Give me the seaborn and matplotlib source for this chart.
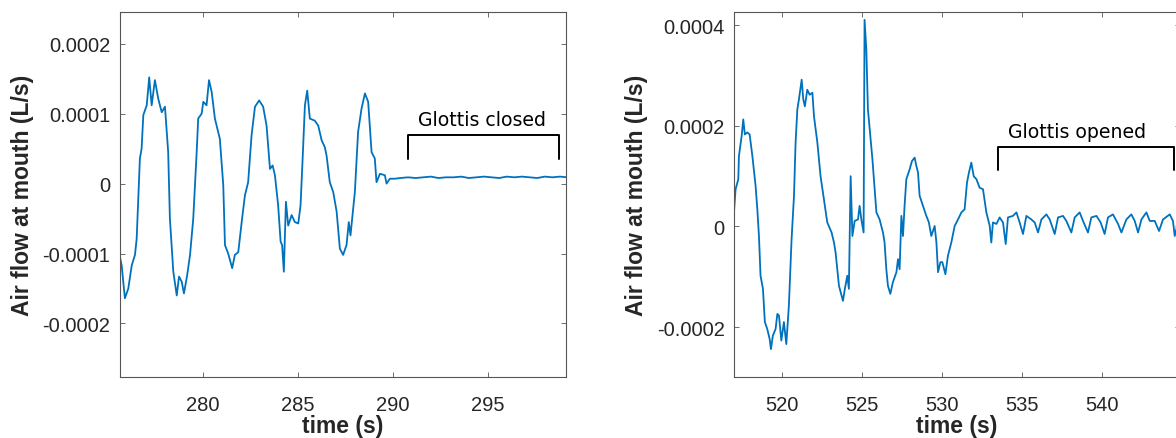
import numpy as np
import pandas as pd
import matplotlib
matplotlib.use("Agg")
import matplotlib.pyplot as plt
import seaborn as sns

# air flow, in units of 1e-4 L/s
t_closed = [275.63, 275.72, 275.89, 276.07, 276.25, 276.42, 276.51, 276.68, 276.77, 276.86,
            277.04, 277.17, 277.30, 277.47, 277.65, 277.83, 278.00, 278.17, 278.26, 278.44,
            278.62, 278.74, 278.88, 279.00, 279.17, 279.32, 279.49, 279.67, 279.75, 279.93,
            280.02, 280.19, 280.32, 280.46, 280.63, 280.89, 281.07, 281.16, 281.33, 281.54,
            281.68, 281.86, 282.04, 282.21, 282.38, 282.56, 282.74, 282.96, 283.17, 283.35,
            283.53, 283.67, 283.79, 283.96, 284.09, 284.17, 284.26, 284.37, 284.49, 284.67,
            284.84, 285.02, 285.14, 285.25, 285.37, 285.49, 285.63, 285.89, 286.07, 286.25,
            286.42, 286.51, 286.68, 286.86, 287.04, 287.21, 287.38, 287.56, 287.68, 287.77,
            288.00, 288.17, 288.35, 288.53, 288.70, 288.88, 289.05, 289.14, 289.32, 289.58,
            289.67, 289.84,
            290.10, 290.40, 290.80, 291.20, 291.60, 292.00, 292.40, 292.80, 293.20, 293.60,
            294.00, 294.40, 294.80, 295.20, 295.60, 296.00, 296.40, 296.80, 297.20, 297.60,
            298.00, 298.40, 298.80, 299.20]
flow_closed = [-1.05, -1.17, -1.64, -1.50, -1.17, -1.02, -0.79, 0.36, 0.50, 0.98,
               1.12, 1.52, 1.12, 1.48, 1.21, 1.02, 1.10, 0.45, -0.50, -1.26,
               -1.60, -1.33, -1.40, -1.57, -1.31, -1.02, -0.50, 0.45, 0.93, 1.00,
               1.17, 1.12, 1.48, 1.31, 0.93, 0.64, -0.02, -0.88, -1.00, -1.21,
               -1.02, -0.98, -0.55, -0.17, 0.02, 0.69, 1.10, 1.19, 1.10, 0.83,
               0.21, 0.26, 0.12, -0.31, -0.83, -0.88, -1.26, -0.26, -0.60, -0.45,
               -0.55, -0.57, -0.31, 0.36, 1.12, 1.33, 0.93, 0.90, 0.83, 0.62,
               0.52, 0.40, 0.02, -0.12, -0.40, -0.93, -1.02, -0.88, -0.55, -0.74,
               -0.12, 0.74, 1.07, 1.29, 1.17, 0.45, 0.36, 0.02, 0.14, 0.12,
               0.00, 0.07,
               0.07, 0.08, 0.09, 0.08, 0.09, 0.10, 0.08, 0.09, 0.09, 0.10,
               0.08, 0.09, 0.10, 0.09, 0.08, 0.10, 0.09, 0.10, 0.09, 0.08,
               0.10, 0.09, 0.10, 0.09]

t_opened = [516.98, 517.08, 517.25, 517.29, 517.46, 517.56, 517.66, 517.81, 517.96, 518.13,
            518.33, 518.44, 518.54, 518.64, 518.79, 518.91, 519.06, 519.21, 519.29, 519.41,
            519.58, 519.69, 519.79, 519.94, 520.10, 520.25, 520.41, 520.58, 520.73, 520.83,
            520.94, 521.04, 521.21, 521.31, 521.41, 521.56, 521.71, 521.88, 521.98, 522.19,
            522.39, 522.60, 522.81, 523.08, 523.23, 523.33, 523.54, 523.79, 523.91, 524.06,
            524.16, 524.27, 524.38, 524.52, 524.73, 524.83, 524.94, 525.08, 525.14, 525.25,
            525.35, 525.50, 525.63, 525.77, 525.88, 526.08, 526.29, 526.39, 526.50, 526.60,
            526.75, 526.91, 527.13, 527.23, 527.33, 527.44, 527.54, 527.64, 527.75, 527.96,
            528.10, 528.27, 528.38, 528.48, 528.58, 528.79, 529.00, 529.16, 529.31, 529.52,
            529.63, 529.73, 529.88, 530.00, 530.19, 530.35, 530.56, 530.77, 530.98, 531.19,
            531.39, 531.54, 531.66, 531.81, 531.96, 532.13, 532.33, 532.54, 532.75, 532.96,
            533.06, 533.16, 533.38, 533.58, 533.79, 533.96, 534.10, 534.41, 534.63, 534.83,
            535.04, 535.25, 535.56, 535.77, 535.98, 536.19, 536.50, 536.71, 537.02, 537.23,
            537.54, 537.75, 538.06, 538.27, 538.58, 538.79, 539.10, 539.31, 539.63, 539.89,
            540.14, 540.35, 540.66, 540.98, 541.19, 541.50, 541.81, 542.02, 542.23, 542.44,
            542.75, 542.96, 543.27, 543.54, 543.79, 544.21, 544.41, 544.52, 544.70]
flow_opened = [0.28, 0.74, 0.94, 1.40, 1.80, 2.13, 1.83, 1.87, 1.83, 1.40,
               0.81, 0.34, -0.19, -0.98, -1.24, -1.90, -2.04, -2.24, -2.44, -2.17,
               -2.04, -1.74, -1.77, -2.27, -1.90, -2.34, -1.58, -0.25, 0.61, 1.67,
               2.33, 2.53, 2.92, 2.53, 2.39, 2.72, 2.62, 2.66, 2.19, 1.67,
               1.00, 0.54, 0.08, -0.12, -0.32, -0.52, -1.18, -1.48, -1.24, -0.98,
               -1.24, 1.00, -0.19, 0.11, 0.14, 0.41, 0.14, -0.12, 4.11, 3.52,
               2.33, 1.80, 1.34, 0.74, 0.28, 0.14, -0.12, -0.32, -0.85, -1.18,
               -1.34, -1.11, -0.91, -0.65, -0.85, 0.21, -0.19, 0.41, 0.94, 1.14,
               1.30, 1.37, 1.20, 1.07, 0.61, 0.41, 0.21, 0.08, -0.19, 0.01,
               -0.32, -0.91, -0.71, -0.71, -0.95, -0.58, -0.32, 0.01, 0.14, 0.28,
               0.34, 0.87, 1.07, 1.27, 1.00, 0.94, 0.77, 0.74, 0.28, 0.01,
               -0.32, 0.08, 0.05, 0.18, 0.08, -0.35, 0.18, 0.21, 0.28, 0.08,
               -0.15, 0.21, 0.14, 0.08, -0.12, 0.14, 0.24, 0.14, -0.15, 0.18,
               0.21, 0.11, -0.12, 0.18, 0.28, 0.11, -0.12, 0.18, 0.21, 0.08,
               -0.15, 0.18, 0.24, 0.05, -0.12, 0.14, 0.24, 0.11, -0.12, 0.14,
               0.28, 0.11, 0.11, -0.09, 0.14, 0.24, 0.11, -0.19, 0.05]

xticks_closed = [280, 285, 290, 295]
yticks_closed = [-0.0002, -0.0001, 0, 0.0001, 0.0002]
ylabels_closed = ["-0.0002", "-0.0001", "0", "0.0001", "0.0002"]
xticks_opened = [520, 525, 530, 535, 540]
yticks_opened = [-0.0002, 0, 0.0002, 0.0004]
ylabels_opened = ["-0.0002", "0", "0.0002", "0.0004"]

closed = pd.DataFrame({"time": t_closed, "flow": np.array(flow_closed) * 1e-4})
opened = pd.DataFrame({"time": t_opened, "flow": np.array(flow_opened) * 1e-4})

sns.set_style("ticks")
plt.rcParams["font.family"] = ["Liberation Sans", "DejaVu Sans"]

fig = plt.figure(figsize=(11.76, 4.39), dpi=100)
ax1 = fig.add_axes([0.1020, 0.1383, 0.3790, 0.8314])
ax2 = fig.add_axes([0.6244, 0.1383, 0.3790, 0.8314])

blue = "#0072BD"
panels = [
    (ax1, closed, (275.63, 299.1), (-0.000277, 0.000245), xticks_closed, yticks_closed, ylabels_closed),
    (ax2, opened, (517.0, 544.85), (-0.0003, 0.000426), xticks_opened, yticks_opened, ylabels_opened),
]
for ax, df, xl, yl, xt, yt, ytl in panels:
    sns.lineplot(data=df, x="time", y="flow", ax=ax, estimator=None, sort=False,
                 color=blue, linewidth=1.3)
    ax.set_xlim(*xl)
    ax.set_ylim(*yl)
    ax.set_xticks(xt)
    ax.set_xticklabels([str(v) for v in xt])
    ax.set_yticks(yt)
    ax.set_yticklabels(ytl)
    ax.tick_params(direction="in", length=3.6, width=0.6, top=True, right=True,
                   labelsize=14.5, colors="#262626", color="#555555")
    ax.tick_params(axis="x", pad=13)
    ax.tick_params(axis="y", pad=7)
    for s in ax.spines.values():
        s.set_visible(True)
        s.set_linewidth(0.8)
        s.set_color("#555555")
    ax.set_xlabel("time (s)", fontsize=16.5, fontweight="bold", color="#262626", labelpad=0)
    ax.set_ylabel("Air flow at mouth (L/s)", fontsize=16.5, fontweight="bold",
                  color="#262626", labelpad=6)

# brackets marking the glottis state
ax1.plot([290.81, 290.81, 298.75, 298.75], [0.358e-4, 0.692e-4, 0.692e-4, 0.358e-4],
         color="black", lw=1.4)
ax1.text(294.7, 0.92e-4, "Glottis closed", ha="center", va="center",
         fontsize=13.6, family="DejaVu Sans", color="black")
ax2.plot([533.48, 533.48, 544.46, 544.46], [1.12e-4, 1.58e-4, 1.58e-4, 1.12e-4],
         color="black", lw=1.4)
ax2.text(538.4, 1.88e-4, "Glottis opened", ha="center", va="center",
         fontsize=13.6, family="DejaVu Sans", color="black")

fig.savefig("out.png", dpi=100)
